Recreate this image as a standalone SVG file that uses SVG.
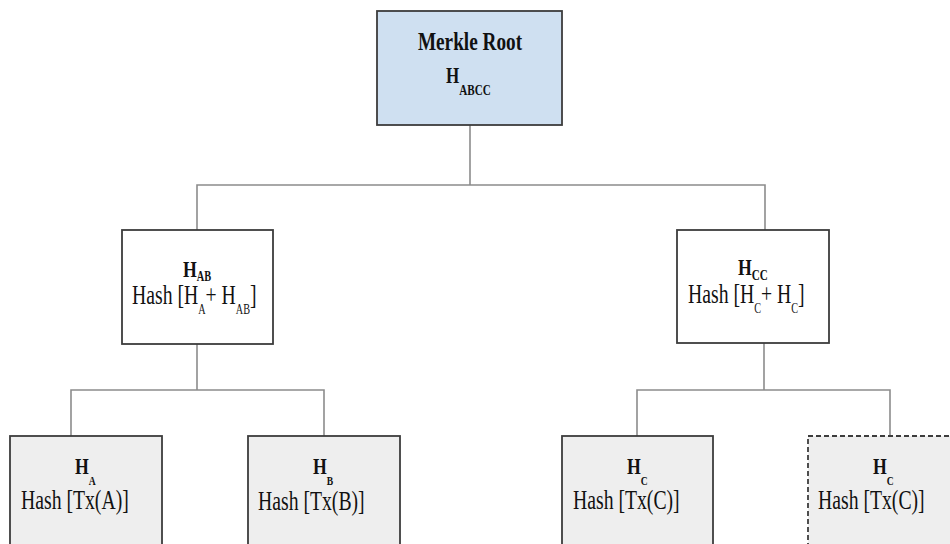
<svg xmlns="http://www.w3.org/2000/svg" width="950" height="544" viewBox="0 0 950 544">
  <style>
    .box { stroke: #3c3c3c; stroke-width: 1.8; }
    .root { fill: #cfe0f1; }
    .mid { fill: #ffffff; }
    .leaf { fill: #eeeeee; }
    .dup { stroke-dasharray: 5 3; }
    .wire { fill: none; stroke: #8c8c8c; stroke-width: 1.6; }
    text { font-family: "Liberation Serif", "Times New Roman", serif; fill: #111111; }
    .b { font-weight: bold; }
  </style>

  <rect width="950" height="544" fill="#ffffff"/>

  <!-- tree connectors -->
  <g id="connectors">
    <path class="wire" d="M470 125 V185 M197 230 V185 H765 V230"/>
    <path class="wire" d="M197 344 V390 M71 436 V390 H324 V436"/>
    <path class="wire" d="M764 343 V390 M637 436 V390 H890 V436"/>
  </g>

  <!-- root -->
  <g id="merkle-root">
    <rect class="box root" x="377" y="11" width="185" height="114"/>
    <text class="b" font-size="26" text-anchor="middle" transform="translate(470,50) scale(0.74,1)">Merkle Root</text>
    <text class="b" font-size="23" transform="translate(446,83) scale(0.74,1)">H<tspan font-size="15" dy="12">ABCC</tspan></text>
  </g>

  <!-- level 1 -->
  <g id="h-ab">
    <rect class="box mid" x="122" y="230" width="151" height="114"/>
    <text class="b" font-size="24" transform="translate(183,277) scale(0.74,1)">H<tspan font-size="14" dy="4">AB</tspan></text>
    <text font-size="27" transform="translate(132,304) scale(0.73,1)">Hash [H<tspan font-size="14" dy="10">A</tspan><tspan dy="-10">+ H</tspan><tspan font-size="14" dy="10">AB</tspan><tspan dy="-10">]</tspan></text>
  </g>

  <g id="h-cc">
    <rect class="box mid" x="677" y="230" width="152" height="113"/>
    <text class="b" font-size="24" transform="translate(738,275) scale(0.74,1)">H<tspan font-size="15" dy="5">CC</tspan></text>
    <text font-size="27" transform="translate(688,303) scale(0.73,1)">Hash [H<tspan font-size="14" dy="10">C</tspan><tspan dy="-10">+ H</tspan><tspan font-size="14" dy="10">C</tspan><tspan dy="-10">]</tspan></text>
  </g>

  <!-- leaves -->
  <g id="h-a">
    <rect class="box leaf" x="10" y="436" width="152" height="120"/>
    <text class="b" font-size="24" transform="translate(75,474) scale(0.74,1)">H<tspan font-size="13" dy="11">A</tspan></text>
    <text font-size="27" transform="translate(21,509) scale(0.73,1)">Hash [Tx(A)]</text>
  </g>

  <g id="h-b">
    <rect class="box leaf" x="248" y="436" width="152" height="120"/>
    <text class="b" font-size="24" transform="translate(313,474) scale(0.74,1)">H<tspan font-size="13" dy="11">B</tspan></text>
    <text font-size="27" transform="translate(258,510) scale(0.73,1)">Hash [Tx(B)]</text>
  </g>

  <g id="h-c">
    <rect class="box leaf" x="562" y="436" width="151" height="120"/>
    <text class="b" font-size="24" transform="translate(627,474) scale(0.74,1)">H<tspan font-size="13" dy="11">C</tspan></text>
    <text font-size="27" transform="translate(573,509) scale(0.73,1)">Hash [Tx(C)]</text>
  </g>

  <g id="h-c-copy">
    <rect class="box leaf dup" x="808" y="436" width="160" height="120"/>
    <text class="b" font-size="24" transform="translate(873,474) scale(0.74,1)">H<tspan font-size="13" dy="11">C</tspan></text>
    <text font-size="27" transform="translate(818,509) scale(0.73,1)">Hash [Tx(C)]</text>
  </g>
</svg>
